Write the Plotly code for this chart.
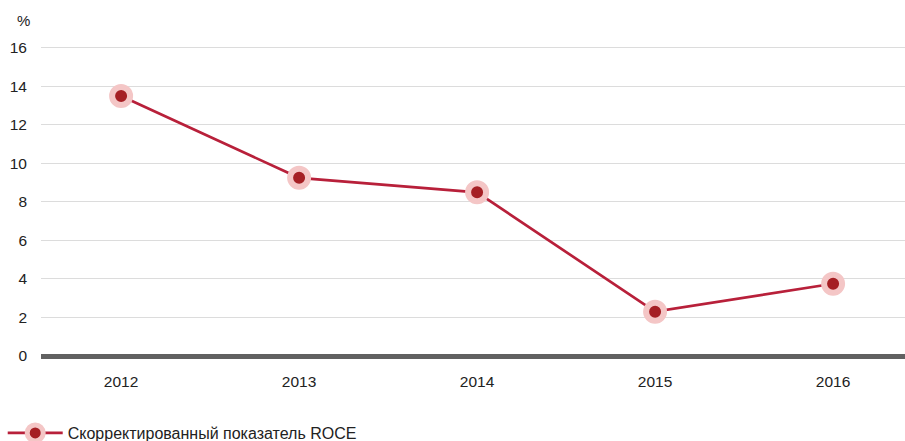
import plotly.graph_objects as go

years = ["2012", "2013", "2014", "2015", "2016"]
roce = [13.5, 9.25, 8.5, 2.3, 3.75]
series_name = "Скорректированный показатель ROCE"
y_ticks = [0, 2, 4, 6, 8, 10, 12, 14, 16]

H = 470
fig = go.Figure()
fig.add_trace(go.Scatter(
    x=years, y=roce, name=series_name, mode="lines+markers",
    line=dict(color="#b8203a", width=2.7),
    marker=dict(size=18, color="#a51f24", line=dict(color="#f4c6c6", width=6)),
))

fig.update_layout(
    width=905, height=H,
    margin=dict(l=41, r=0, t=44, b=H - 356),
    paper_bgcolor="white", plot_bgcolor="white",
    font=dict(family="Liberation Sans, Arial, sans-serif", size=16, color="#222222"),
    showlegend=True,
    legend=dict(orientation="h", x=0.003, xref="container", y=(H - 433) / H,
                yref="container", xanchor="left", yanchor="middle",
                font=dict(size=16), itemwidth=55),
    xaxis=dict(type="category", range=[-0.45, 4.404], showgrid=False, ticks="",
               showline=False, tickfont=dict(size=15.5), automargin=False,
               ticklabelstandoff=14),
    yaxis=dict(range=[0, 16.2], tickvals=y_ticks, showgrid=True, gridcolor="#dcdcdc",
               gridwidth=1, zeroline=True, zerolinecolor="#616161", zerolinewidth=4.5,
               ticks="", showline=False, tickfont=dict(size=15.5), automargin=False,
               ticklabelstandoff=13),
    annotations=[dict(text="%", xref="paper", yref="paper", x=-0.02, y=1.0,
                      yshift=24, yanchor="middle", showarrow=False, font=dict(size=15),
                      xanchor="center")],
)

fig.write_html("out.html", config={"displayModeBar": False},
               post_script="document.body.style.margin='0px';"
                           "document.body.style.overflow='hidden';"
                           "document.documentElement.style.overflow='hidden';")
